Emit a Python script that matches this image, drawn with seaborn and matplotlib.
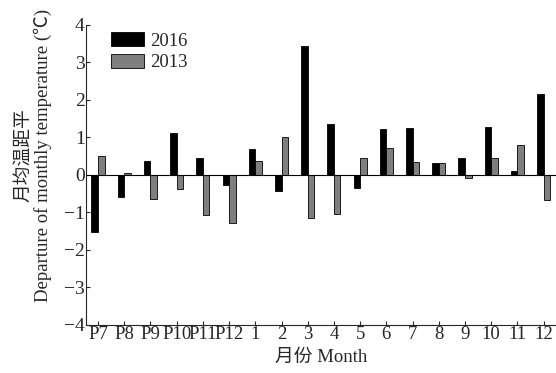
import numpy as np
import pandas as pd
import matplotlib
matplotlib.use("Agg")
import matplotlib.pyplot as plt
import seaborn as sns

months = ["P7", "P8", "P9", "P10", "P11", "P12", "1", "2", "3", "4",
          "5", "6", "7", "8", "9", "10", "11", "12"]
dep_2016 = [-1.51, -0.58, 0.38, 1.11, 0.45, -0.28, 0.68, -0.42, 3.45, 1.37,
            -0.36, 1.23, 1.25, 0.31, 0.44, 1.27, 0.11, 2.15]
dep_2013 = [0.50, 0.04, -0.64, -0.37, -1.07, -1.27, 0.36, 1.00, -1.16, -1.05,
            0.46, 0.73, 0.34, 0.31, -0.07, 0.46, 0.81, -0.67]

df = pd.DataFrame({
    "month": months * 2,
    "value": dep_2016 + dep_2013,
    "year": ["2016"] * len(months) + ["2013"] * len(months),
})

sns.set_style("ticks")
plt.rcParams["font.family"] = ["Liberation Serif", "Noto Sans CJK SC"]
plt.rcParams["axes.unicode_minus"] = True

fig = plt.figure(figsize=(5.56, 3.73), dpi=100)
ax = fig.add_axes([0.155, 0.129, 0.845, 0.804])

sns.barplot(data=df, x="month", y="value", hue="year", order=months,
            hue_order=["2016", "2013"], palette={"2016": "black", "2013": "#7f7f7f"},
            width=0.5, edgecolor="black", linewidth=0.6, ax=ax)

ax.axhline(0, color="black", lw=0.8)
ax.set_xlim(-0.45, 17.47)
ax.set_ylim(-4, 4)
ax.set_yticks(range(-4, 5))
ax.tick_params(direction="in", length=3, width=0.8, labelsize=14, pad=1)
ax.tick_params(axis="x", labelsize=13.5)
for s in ["top", "right"]:
    ax.spines[s].set_visible(False)
for s in ["left", "bottom"]:
    ax.spines[s].set_linewidth(0.8)

ax.set_xlabel("月份 Month", fontsize=13.5, labelpad=4)
ax.set_ylabel("月均温距平\nDeparture of monthly temperature (℃)", fontsize=13.5,
              linespacing=1.15)
ax.yaxis.set_label_coords(-0.072, 0.565)

leg = ax.legend(loc="upper left", bbox_to_anchor=(0.025, 1.02), frameon=False,
                fontsize=13.5, handlelength=1.75, handleheight=0.8,
                labelspacing=0.2, handletextpad=0.35, borderpad=0.2)

fig.savefig("out.png", dpi=100)
